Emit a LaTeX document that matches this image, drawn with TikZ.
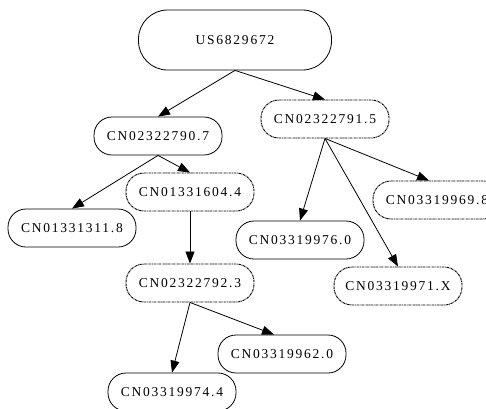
\documentclass[tikz,border=0pt]{standalone}
\usepackage{fontspec}
\usepackage{xcolor}
\usetikzlibrary{shapes,arrows.meta,positioning}
\newfontfamily\patentfont[LetterSpace=13]{Liberation Serif}
\definecolor{linegray}{RGB}{0,0,0}
\tikzset{
    % Define standard node styles
    rootbox/.style={
        rectangle, draw=linegray, line width=0.8pt, fill=white,
        minimum width=193pt, minimum height=60pt,
        rounded corners=29pt, font=\patentfont\fontsize{13.5}{16}\selectfont
    },
    citedbox/.style={
        rectangle, draw=linegray, line width=0.8pt, fill=white,
        minimum width=128pt, minimum height=38pt, inner xsep=2pt,
        rounded corners=18pt, font=\patentfont\fontsize{13.5}{16}\selectfont
    },
    familybox/.style={
        citedbox, line width=0.9pt, dash pattern=on 2.5pt off 0.7pt on 0.8pt off 0.7pt
    },
    arrow/.style={
        -{Triangle[length=12pt,width=9pt]}, line width=0.8pt, color=linegray
    }
}
\begin{document}
\begin{tikzpicture}[x=1pt,y=-1pt]
\useasboundingbox (0,0) rectangle (486,408);

\node[rootbox] (us) at (235,40) {US6829672};
\node[citedbox] (cn907) at (158,136) {CN02322790.7};
\node[familybox] (cn915) at (325,119) {CN02322791.5};
\node[citedbox] (cn118) at (72,228) {CN01331311.8};
\node[familybox] (cn044) at (190,192) {CN01331604.4};
\node[citedbox] (cn760) at (300,240) {CN03319976.0};
\node[familybox] (cn698) at (437,200) {CN03319969.8};
\node[familybox] (cn71x) at (398,286) {CN03319971.X};
\node[familybox] (cn923) at (190,283) {CN02322792.3};
\node[citedbox] (cn620) at (282,354) {CN03319962.0};
\node[citedbox] (cn744) at (172,392) {CN03319974.4};

\draw[arrow] (us.south) -- (cn907.north);
\draw[arrow] (us.south) -- (cn915.north);
\draw[arrow] (cn907.south) -- (cn118.north);
\draw[arrow] (cn907.south) -- (cn044.north);
\draw[arrow] (cn915.south) -- (cn760.north);
\draw[arrow] (cn915.south) -- ([xshift=-8pt]cn698.north);
\draw[arrow] (cn915.south) -- (cn71x.north);
\draw[arrow] (cn044.south) -- (cn923.north);
\draw[arrow] (cn923.south) -- ([xshift=-8pt]cn620.north);
\draw[arrow] (cn923.south) -- (cn744.north);

\end{tikzpicture}
\end{document}
